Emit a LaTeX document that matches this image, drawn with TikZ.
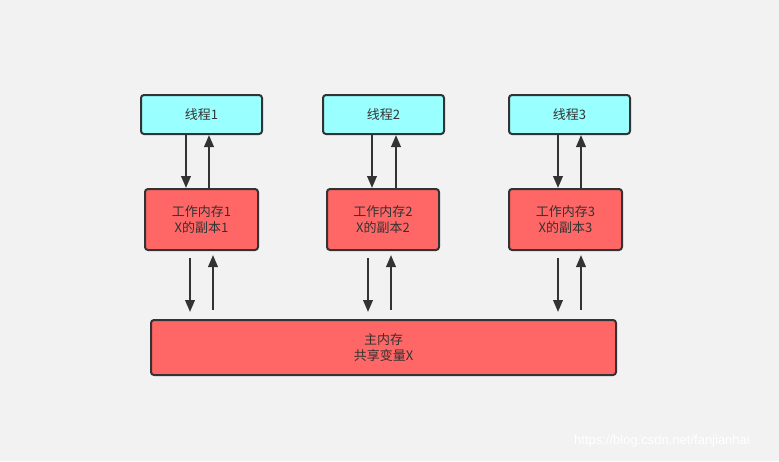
\documentclass[tikz,border=0pt]{standalone}
\usepackage{fontspec}
\setmainfont{Liberation Sans}
\newfontfamily\cjk{Noto Sans CJK SC}
\usetikzlibrary{arrows.meta}
\definecolor{bgc}{HTML}{F2F2F2}
\definecolor{cyanbox}{HTML}{99FFFF}
\definecolor{redbox}{HTML}{FF6666}
\definecolor{strk}{HTML}{333333}
\begin{document}
\begin{tikzpicture}[x=1pt,y=-1pt,
  box/.style={draw=strk,line width=2pt,rounded corners=3pt,inner sep=0pt,anchor=north west,
    font=\cjk\fontsize{13}{16.7}\selectfont,text=strk,align=center},
  thread/.style={box,fill=cyanbox},
  mem/.style={box,fill=redbox},
  arr/.style={draw=strk,line width=2.2pt,-{Triangle[length=12pt,width=9.5pt]}}]
\fill[bgc] (0,0) rectangle (779,461);
\useasboundingbox (0,0) rectangle (779,461);
% threads
\node[thread,minimum width=121pt,minimum height=39pt] (t1) at (140,94) {线程1};
\node[thread,minimum width=121pt,minimum height=39pt] (t2) at (322,94) {线程2};
\node[thread,minimum width=121pt,minimum height=39pt] (t3) at (508,94) {线程3};
% working memories
\node[mem,minimum width=113pt,minimum height=61pt] (w1) at (144,188) {工作内存1\\X的副本1};
\node[mem,minimum width=112pt,minimum height=61pt] (w2) at (326,188) {工作内存2\\X的副本2};
\node[mem,minimum width=113pt,minimum height=61pt] (w3) at (508,188) {工作内存3\\X的副本3};
% main memory
\node[mem,minimum width=465pt,minimum height=55pt] (m) at (150,319) {主内存\\共享变量X};
% thread <-> working memory
\draw[arr] ([xshift=-15.5pt]t1.south) -- ([xshift=-15.5pt]t1.south |- w1.north);
\draw[arr] ([xshift=7.5pt]t1.south |- w1.north) -- ([xshift=7.5pt]t1.south);
\draw[arr] ([xshift=-11.5pt]t2.south) -- ([xshift=-11.5pt]t2.south |- w2.north);
\draw[arr] ([xshift=12.5pt]t2.south |- w2.north) -- ([xshift=12.5pt]t2.south);
\draw[arr] ([xshift=-11.5pt]t3.south) -- ([xshift=-11.5pt]t3.south |- w3.north);
\draw[arr] ([xshift=11.5pt]t3.south |- w3.north) -- ([xshift=11.5pt]t3.south);
% working memory <-> main memory
\draw[arr,shorten <=7pt,shorten >=7pt] ([xshift=-11.5pt]w1.south) -- ([xshift=-11.5pt]w1.south |- m.north);
\draw[arr,shorten <=9pt,shorten >=4pt] ([xshift=11.5pt]w1.south |- m.north) -- ([xshift=11.5pt]w1.south);
\draw[arr,shorten <=7pt,shorten >=7pt] ([xshift=-15pt]w2.south) -- ([xshift=-15pt]w2.south |- m.north);
\draw[arr,shorten <=9pt,shorten >=4pt] ([xshift=8pt]w2.south |- m.north) -- ([xshift=8pt]w2.south);
\draw[arr,shorten <=7pt,shorten >=7pt] ([xshift=-7.5pt]w3.south) -- ([xshift=-7.5pt]w3.south |- m.north);
\draw[arr,shorten <=9pt,shorten >=4pt] ([xshift=15.5pt]w3.south |- m.north) -- ([xshift=15.5pt]w3.south);
% watermark
\node[text=white,font=\fontsize{13}{13}\selectfont] (wm) at (662,441) {https://blog.csdn.net/fanjianhai};
\end{tikzpicture}
\end{document}
